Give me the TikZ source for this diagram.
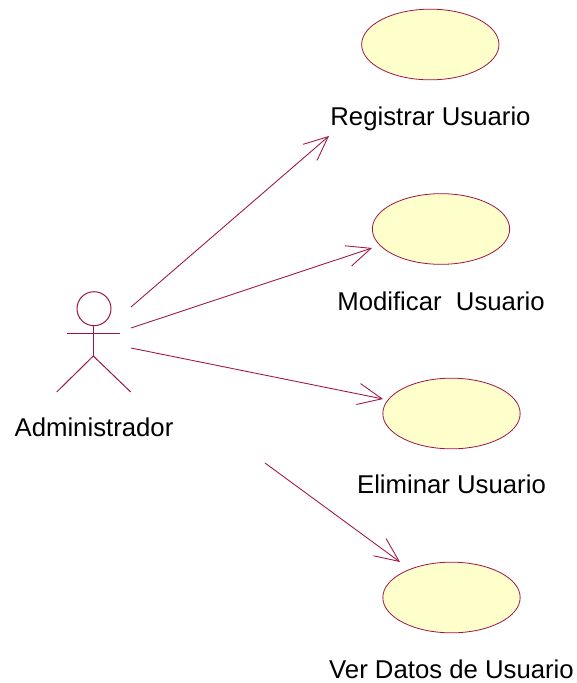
\documentclass[tikz,border=0pt]{standalone}
\usepackage{fontspec}
\setmainfont{Liberation Sans}
\usetikzlibrary{arrows.meta,shapes.geometric}
\definecolor{umlline}{RGB}{160,20,70}
\definecolor{umlfill}{RGB}{255,255,204}
\tikzset{
  x=0.75pt,y=-0.75pt,
  usecase/.style={shape=ellipse,draw=umlline,fill=umlfill,line width=0.6pt,minimum width=103pt,minimum height=53pt,inner sep=0pt},
  lbl/.style={font=\fontsize{19.3pt}{22pt}\selectfont,text=black,inner sep=0pt,anchor=base},
  assoc/.style={draw=umlline,line width=0.65pt,-{Straight Barb[length=18pt,width=16pt,line width=0.65pt]}},
  stick/.style={draw=umlline,line width=0.75pt}
}
\begin{document}
\begin{tikzpicture}
\useasboundingbox[fill=white] (0,0) rectangle (576,683);
\node[usecase] (e1) at (430.3,44.5) {};
\node[usecase] (e2) at (441,229) {};
\node[usecase] (e3) at (451.5,413.5) {};
\node[usecase] (e4) at (451.5,597.5) {};
\coordinate (u1) at (329,136);
\coordinate (u2) at (372,248);
\coordinate (u3) at (383,399);
\coordinate (u4) at (400,562);
\coordinate (a1) at (131,307);
\coordinate (a2) at (131,328);
\coordinate (a3) at (131,348);
\coordinate (a4) at (265,463);
\draw[assoc] (a1) -- (u1);
\draw[assoc] (a2) -- (u2);
\draw[assoc] (a3) -- (u3);
\draw[assoc] (a4) -- (u4);
\node[circle,stick,minimum size=25.5pt,inner sep=0pt] (head) at (94,308.7) {};
\coordinate (neck) at (93.3,325.7);
\coordinate (hip) at (93.3,356);
\coordinate (armL) at (67,333.3);
\coordinate (armR) at (120,333.3);
\coordinate (legL) at (56.7,392);
\coordinate (legR) at (130.7,392);
\draw[stick] (neck) -- (hip);
\draw[stick] (armL) -- (armR);
\draw[stick] (legL) -- (hip) -- (legR);
\node[lbl] (n0) at (94,436) {Administrador};
\node[lbl] (n1) at (430.5,125) {Registrar Usuario};
\node[lbl] (n2) at (441,310) {Modificar\ \ Usuario};
\node[lbl] (n3) at (451.5,493) {Eliminar Usuario};
\node[lbl] (n4) at (451.5,678) {Ver Datos de Usuario};
\end{tikzpicture}
\end{document}
